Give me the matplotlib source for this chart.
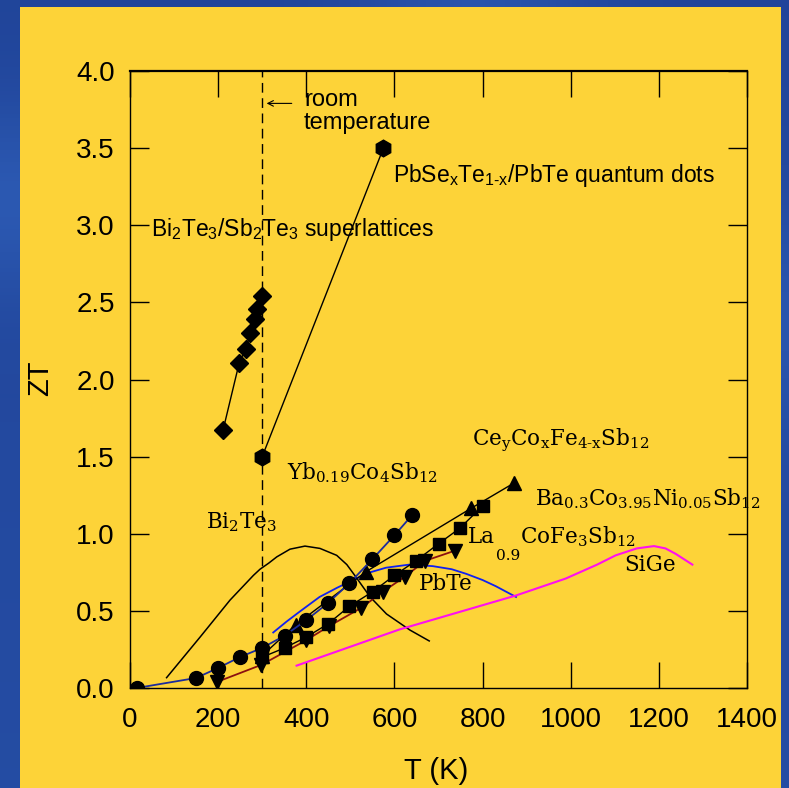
import numpy as np
import matplotlib
matplotlib.use("Agg")
import matplotlib.pyplot as plt
from matplotlib.patches import Rectangle

plt.rcParams['mathtext.fontset'] = 'custom'
plt.rcParams['mathtext.rm'] = 'DejaVu Serif'
plt.rcParams['mathtext.sf'] = 'Liberation Sans'
plt.rcParams['mathtext.it'] = 'DejaVu Serif:italic'

# ---------------- data ----------------
superlattice_T = [211, 248, 263, 273, 284, 288, 299]
superlattice_ZT = [1.67, 2.11, 2.20, 2.30, 2.39, 2.46, 2.54]

qdot_T = [300, 575]
qdot_ZT = [1.50, 3.50]

yb_T = [15, 150, 200, 249, 300, 351, 400, 449, 498, 550, 600, 640]
yb_ZT = [0.00, 0.065, 0.13, 0.20, 0.26, 0.34, 0.44, 0.55, 0.68, 0.835, 0.99, 1.12]

bi_T = [83, 159, 227, 280, 295, 315, 333, 363, 397, 431, 469, 492, 510, 545, 582, 635, 679]
bi_ZT = [0.067, 0.33, 0.57, 0.73, 0.77, 0.81, 0.85, 0.90, 0.92, 0.905, 0.86, 0.80, 0.73, 0.59, 0.48, 0.376, 0.305]

pbte_T = [325, 355, 385, 430, 470, 506, 545, 581, 634, 687, 730, 763, 800, 830, 876]
pbte_ZT = [0.36, 0.43, 0.495, 0.59, 0.65, 0.70, 0.75, 0.78, 0.80, 0.79, 0.77, 0.74, 0.70, 0.66, 0.59]

sige_T = [378, 612, 876, 989, 1060, 1102, 1150, 1189, 1215, 1238, 1276]
sige_ZT = [0.145, 0.38, 0.60, 0.71, 0.80, 0.86, 0.905, 0.92, 0.905, 0.87, 0.80]

ce_T = [300, 376, 536, 774, 872]
ce_ZT = [0.21, 0.41, 0.755, 1.165, 1.33]

ba_T = [300, 351, 400, 449, 498, 551, 600, 649, 700, 748, 800]
ba_ZT = [0.20, 0.26, 0.33, 0.415, 0.53, 0.625, 0.73, 0.825, 0.935, 1.035, 1.18]

la_T = [198, 298, 400, 451, 525, 574, 623, 670, 737]
la_ZT = [0.04, 0.15, 0.31, 0.40, 0.52, 0.625, 0.72, 0.825, 0.89]

x_ticks = [0, 200, 400, 600, 800, 1000, 1200, 1400]
y_ticks = [0.0, 0.5, 1.0, 1.5, 2.0, 2.5, 3.0, 3.5, 4.0]
room_T = 300

# ---------------- figure ----------------
W, H = 789, 788
fig = plt.figure(figsize=(W / 100, H / 100), dpi=100)

# blue gradient background
bg = fig.add_axes([0, 0, 1, 1], zorder=-10)
yy, xx = np.mgrid[0:1:200j, 0:1:200j]
dark = np.array([0.09, 0.20, 0.52])
light = np.array([0.20, 0.40, 0.76])
t = 0.35 + 0.35 * np.exp(-((yy - 0.25) / 0.12) ** 2) * (xx < 0.1) \
    + 0.3 * np.exp(-((xx - 0.6) / 0.15) ** 2) * (yy < 0.05) \
    + 0.25 * np.exp(-((yy - 0.4) / 0.15) ** 2) * (xx > 0.9) + 0.15 * yy
t = np.clip(t, 0, 1)
img = dark[None, None, :] * (1 - t[..., None]) + light[None, None, :] * t[..., None]
bg.imshow(img, extent=[0, 1, 0, 1], aspect='auto', origin='upper')
bg.axis('off')
fig.patches.append(Rectangle((20 / W, 0), (781 - 20) / W, (H - 7) / H,
                             transform=fig.transFigure, facecolor='#FDD338',
                             edgecolor='none', zorder=-5))

ax = fig.add_axes([130 / W, (H - 688) / H, 617 / W, 617 / H])
ax.set_facecolor('none')
ax.set_xlim(0, 1400)
ax.set_ylim(0, 4.0)

lw = 1.0
ax.plot(bi_T, bi_ZT, color='black', lw=1.1, zorder=2, solid_joinstyle='round')
ax.plot(pbte_T, pbte_ZT, color='#1020F0', lw=1.3, zorder=2, solid_joinstyle='round')
ax.plot(sige_T, sige_ZT, color='#FF10F0', lw=1.5, zorder=2, solid_joinstyle='round')
ax.plot(la_T, la_ZT, color='#8B1010', lw=1.3, marker='v', ms=10,
        mfc='black', mec='black', zorder=3)
ax.plot(ba_T, ba_ZT, color='black', lw=lw, marker='s', ms=9, zorder=3)
ax.plot(ce_T, ce_ZT, color='black', lw=lw, marker='^', ms=10, zorder=3)
ax.plot(yb_T, yb_ZT, color='#1C2C9C', lw=1.3, marker='o', ms=10,
        mfc='black', mec='black', zorder=4)
ax.plot(superlattice_T, superlattice_ZT, color='black', lw=lw, marker='D',
        ms=9.5, zorder=4)
ax.plot(qdot_T, qdot_ZT, color='black', lw=lw, marker='h', ms=12, zorder=4)

# room temperature
ax.plot([room_T, room_T], [0, 4.0], color='black', lw=1.0,
        dashes=(7, 4), zorder=1)
ax.annotate('', xy=(310, 3.79), xytext=(367, 3.79),
            arrowprops=dict(arrowstyle='->', lw=0.8, color='black',
                            shrinkA=0, shrinkB=0))
ax.text(395, 3.735, 'room\ntemperature', fontsize=17, family='Liberation Sans',
        ha='left', va='center', linespacing=1.05)

sans = dict(family='Liberation Sans', fontsize=16.5, ha='left', va='baseline')
serif = dict(family='DejaVu Serif', fontsize=15.5, ha='left', va='baseline')

ax.text(48, 2.93, r'Bi$_{\mathsf{2}}$Te$_{\mathsf{3}}$/Sb$_{\mathsf{2}}$Te$_{\mathsf{3}}$ superlattices', **sans)
ax.text(597, 3.28, r'PbSe$_{\mathsf{x}}$Te$_{\mathsf{1‐x}}$/PbTe quantum dots', **sans)

ax.text(356, 1.35, r'Yb$_{\mathrm{0.19}}$Co$_{\mathrm{4}}$Sb$_{\mathrm{12}}$', **serif)
ax.text(172, 1.037, r'Bi$_{\mathrm{2}}$Te$_{\mathrm{3}}$', **serif)
ax.text(776, 1.575, r'Ce$_{\mathrm{y}}$Co$_{\mathrm{x}}$Fe$_{\mathrm{4‐x}}$Sb$_{\mathrm{12}}$', **serif)
ax.text(919, 1.186, r'Ba$_{\mathrm{0.3}}$Co$_{\mathrm{3.95}}$Ni$_{\mathrm{0.05}}$Sb$_{\mathrm{12}}$', **serif)
ax.text(767, 0.94, 'La', **serif)
ax.text(830, 0.83, '0.9', family='DejaVu Serif', fontsize=11, ha='left', va='baseline')
ax.text(885, 0.94, r'CoFe$_{\mathrm{3}}$Sb$_{\mathrm{12}}$', **serif)
ax.text(656, 0.635, 'PbTe', **serif)
ax.text(1121, 0.758, 'SiGe', **serif)

# ticks
ax.set_xticks(x_ticks)
ax.set_yticks(y_ticks)
ax.set_xticklabels([str(v) for v in x_ticks])
ax.set_yticklabels(['%.1f' % v for v in y_ticks])
ax.tick_params(axis='x', direction='in', length=19, width=1.0, top=True,
               labelsize=20, pad=14)
ax.tick_params(axis='y', direction='in', length=14, width=1.0, right=True,
               labelsize=20, pad=11)
for lab in ax.get_xticklabels() + ax.get_yticklabels():
    lab.set_family('Liberation Sans')
for s in ax.spines.values():
    s.set_linewidth(1.0)
ax.spines['top'].set_linewidth(1.6)

fig.text(40 / W, 1 - 378 / H, 'ZT', rotation=90, fontsize=21,
         family='Liberation Sans', ha='center', va='center')
fig.text(436 / W, 1 - 771 / H, 'T (K)', fontsize=21,
         family='Liberation Sans', ha='center', va='center')

fig.savefig('out.png', dpi=100)
